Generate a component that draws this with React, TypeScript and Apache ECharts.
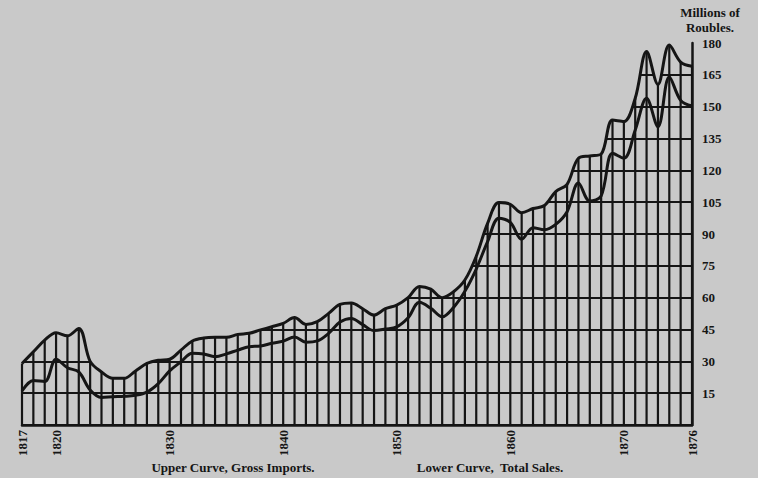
import React, { useEffect, useRef } from "react";
import * as echarts from "echarts";

// Years 1817 .. 1876 (one vertical rule per year)
const YEARS: number[] = Array.from({ length: 60 }, (_, i) => 1817 + i);

// Upper curve: Gross Imports (millions of roubles)
const GROSS_IMPORTS: number[] = [
  29, 34.5, 40, 43.5, 42, 45.5, 30, 25, 22, 22,
  25.5, 29, 30.5, 31, 35.3, 39.6, 41, 41.3, 41.3, 42.7,
  43.2, 44.8, 46.3, 47.9, 50.6, 47.4, 48.7, 52.6, 56.8, 57.5,
  54.8, 51.8, 54.8, 56.5, 60, 65.3, 64, 60, 62.8, 68.3,
  79.5, 95, 104.8, 104, 100, 102, 103.4, 110, 113.4, 125.7,
  126.8, 127.7, 143.7, 143, 154, 176, 160.5, 179, 171, 169,
];

// Lower curve: Total Sales (millions of roubles)
const TOTAL_SALES: number[] = [
  16, 21, 20.5, 31, 27, 25, 16.5, 13, 13.3, 13.5,
  14, 15.5, 19.5, 25.5, 29.8, 33.8, 33.5, 32.2, 33.5, 35.3,
  36.9, 37.2, 38.5, 39.5, 41.5, 39, 39.6, 43.2, 48.5, 50.2,
  47.3, 44.5, 45.2, 46.2, 50.5, 57.8, 55, 51, 55.4, 63,
  73.5, 86.4, 97.4, 95.5, 87.5, 93, 92, 94.5, 100.5, 114,
  105.5, 108, 128, 125.7, 139, 154, 140.5, 164, 153, 150.3,
];

const LABELLED_YEARS: number[] = [1817, 1820, 1830, 1840, 1850, 1860, 1870, 1876];

const Y_MIN = 0;
const Y_MAX = 180;
const Y_STEP = 15;

const BG = "#c9c9c9";
const INK = "#151515";
const FONT = '"Liberation Serif", "DejaVu Serif", serif';
const SMOOTH = 0.35;

export default function App() {
  const ref = useRef<HTMLDivElement>(null);

  useEffect(() => {
    if (!ref.current) return;
    const chart = echarts.init(ref.current, null, { renderer: "svg" });
    const upperPairs = YEARS.map((y, i) => [y, GROSS_IMPORTS[i]]);
    const lowerPairs = YEARS.map((y, i) => [y, TOTAL_SALES[i]]);

    chart.setOption({
      animation: false,
      backgroundColor: BG,
      textStyle: { fontFamily: FONT, fontWeight: "bold", color: INK },
      grid: { left: 22, right: 66, top: 43, bottom: 53, containLabel: false },
      xAxis: {
        type: "value",
        min: 1817,
        max: 1876,
        interval: 1,
        z: 0,
        axisLine: { show: true, onZero: false, lineStyle: { color: INK, width: 2.5 } },
        axisTick: { show: false },
        splitLine: { show: false },
        axisLabel: {
          rotate: 90,
          margin: 5,
          color: INK,
          fontFamily: FONT,
          fontWeight: "bold",
          fontSize: 13,
          formatter: (v: number) => (LABELLED_YEARS.includes(v) ? String(v) : ""),
        },
      },
      yAxis: [
        {
          type: "value",
          min: Y_MIN,
          max: Y_MAX,
          interval: Y_STEP,
          position: "right",
          z: 0,
          axisLine: { show: false },
          axisTick: { show: false },
          axisLabel: { show: false },
          splitLine: {
            show: true,
            showMaxLine: false,
            lineStyle: { color: INK, width: 2.2 },
          },
        },
        {
          type: "value",
          min: Y_MIN,
          max: Y_MAX,
          interval: Y_STEP,
          position: "right",
          z: 6,
          axisLine: { show: true, lineStyle: { color: INK, width: 2.5 } },
          axisTick: { show: false },
          splitLine: { show: false },
          axisLabel: {
            margin: 10,
            color: INK,
            fontFamily: FONT,
            fontWeight: "bold",
            fontSize: 13,
            formatter: (v: number) => (v === 0 ? "" : String(v)),
          },
        },
      ],
      graphic: [
        {
          type: "text",
          x: 710,
          y: 12,
          z: 10,
          style: {
            text: "Millions of",
            font: `bold 13px ${FONT}`,
            fill: INK,
            textAlign: "center",
            textVerticalAlign: "middle",
          },
        },
        {
          type: "text",
          x: 710,
          y: 27,
          z: 10,
          style: {
            text: "Roubles.",
            font: `bold 13px ${FONT}`,
            fill: INK,
            textAlign: "center",
            textVerticalAlign: "middle",
          },
        },
        {
          type: "text",
          x: 233,
          y: 467,
          style: {
            text: "Upper Curve, Gross Imports.",
            font: `bold 13px ${FONT}`,
            fill: INK,
            textAlign: "center",
            textVerticalAlign: "middle",
          },
        },
        {
          type: "text",
          x: 490,
          y: 467,
          style: {
            text: "Lower Curve,  Total Sales.",
            font: `bold 13px ${FONT}`,
            fill: INK,
            textAlign: "center",
            textVerticalAlign: "middle",
          },
        },
      ],
      series: [
        {
          // fills the space above the upper curve with the paper colour,
          // so that the ruled grid only shows beneath the imports curve
          type: "line",
          name: "cover",
          data: upperPairs,
          smooth: SMOOTH,
          symbol: "none",
          silent: true,
          lineStyle: { opacity: 0 },
          areaStyle: { color: BG, opacity: 1, origin: "end" },
          z: 2,
        },
        {
          type: "custom",
          name: "rules",
          data: upperPairs,
          silent: true,
          clip: false,
          z: 3,
          renderItem: (_params: any, api: any) => {
            const x = api.value(0);
            const v = api.value(1);
            const p0 = api.coord([x, 0]);
            const p1 = api.coord([x, v]);
            return {
              type: "line",
              shape: { x1: p0[0], y1: p0[1], x2: p1[0], y2: p1[1] },
              style: { stroke: INK, lineWidth: 2.2 },
            };
          },
        },
        {
          type: "line",
          name: "Gross Imports",
          data: upperPairs,
          smooth: SMOOTH,
          symbol: "none",
          lineStyle: { color: INK, width: 3, join: "round" },
          z: 4,
        },
        {
          type: "line",
          name: "Total Sales",
          data: lowerPairs,
          smooth: SMOOTH,
          symbol: "none",
          lineStyle: { color: INK, width: 3, join: "round" },
          z: 4,
        },
      ],
    });

    return () => chart.dispose();
  }, []);

  return (
    <div
      ref={ref}
      style={{ position: "absolute", left: 0, top: 0, width: 758, height: 478 }}
    />
  );
}
